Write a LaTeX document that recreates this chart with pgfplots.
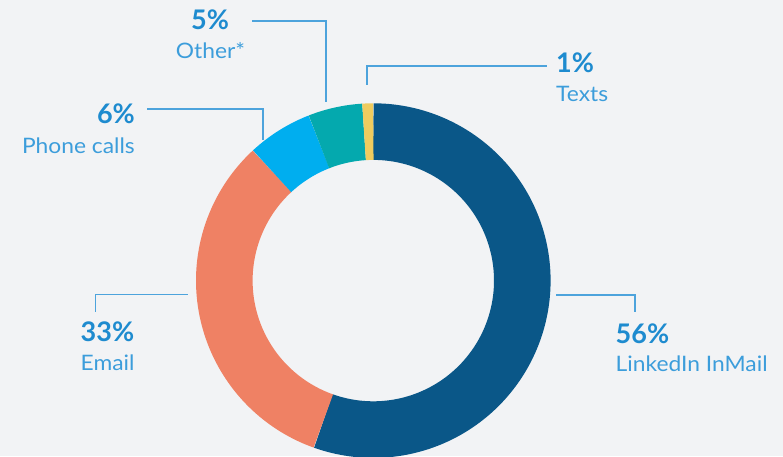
\documentclass[border=0pt]{standalone}
\usepackage{pgfplots}
\pgfplotsset{compat=1.18}
\usepackage{graphicx}
\usepackage{fontspec}
\setmainfont{Lato}
\definecolor{bgc}{HTML}{F2F3F5}
\definecolor{cLinked}{HTML}{0A5788}
\definecolor{cEmail}{HTML}{EF8164}
\definecolor{cPhone}{HTML}{00AEEF}
\definecolor{cOther}{HTML}{04A9AE}
\definecolor{cTexts}{HTML}{EFCC5F}
\definecolor{cPct}{HTML}{1E8BCF}
\definecolor{cLab}{HTML}{3C9DDB}
\definecolor{cLine}{HTML}{4DA3DC}
\newcommand{\pct}[1]{{\fontsize{27}{30}\selectfont\bfseries #1}}
\newcommand{\lab}[1]{\scalebox{1.07}[1]{\fontsize{21.3}{25}\selectfont #1}}
\begin{document}
\begin{tikzpicture}
\begin{axis}[
  x=1pt, y=1pt,
  xmin=0, xmax=783, ymin=0, ymax=456,
  hide axis, scale only axis,
  clip=true,
]
\fill[bgc] (rel axis cs:0,0) rectangle (rel axis cs:1,1);
% donut: centre (373.3,175.4), mid radius 149, ring width 56.6
% shares (percent): LinkedIn 56, Email 33, Phone 6, Other 5, Texts 1 (total 101)
\addplot[cLinked, line width=56.6pt, domain={90-360*56/101}:{90}, samples=160, variable=\t] ({373.3+149*cos(\t)},{175.4+149*sin(\t)});
\addplot[cEmail, line width=56.6pt, domain={90-360*89/101}:{90-360*56/101}, samples=110, variable=\t] ({373.3+149*cos(\t)},{175.4+149*sin(\t)});
\addplot[cPhone, line width=56.6pt, domain={90-360*95/101}:{90-360*89/101}, samples=30, variable=\t] ({373.3+149*cos(\t)},{175.4+149*sin(\t)});
\addplot[cOther, line width=56.6pt, domain={90-360*100/101}:{90-360*95/101}, samples=30, variable=\t] ({373.3+149*cos(\t)},{175.4+149*sin(\t)});
\addplot[cTexts, line width=56.6pt, domain={90-360}:{90-360*100/101}, samples=10, variable=\t] ({373.3+149*cos(\t)},{175.4+149*sin(\t)});
% leader lines
\addplot[cLine, line width=1.4pt, mark=none] coordinates {(252,435) (326,435) (326,354)};
\addplot[cLine, line width=1.4pt, mark=none] coordinates {(367,371) (367,390) (547,390)};
\addplot[cLine, line width=1.4pt, mark=none] coordinates {(147,347) (263,347) (263,316)};
\addplot[cLine, line width=1.4pt, mark=none] coordinates {(95.7,144.3) (95.7,161.7) (187.7,161.7)};
\addplot[cLine, line width=1.4pt, mark=none] coordinates {(556,161) (635,161) (635,144.3)};
% labels
\node[anchor=base, inner sep=0pt, text=cPct] at (axis cs:210,426) {\pct{5\%}};
\node[anchor=base, inner sep=0pt, text=cLab] at (axis cs:210.5,397) {\lab{Other*}};
\node[anchor=base west, inner sep=0pt, text=cPct] at (axis cs:556,383.7) {\pct{1\%}};
\node[anchor=base west, inner sep=0pt, text=cLab] at (axis cs:556,354.3) {\lab{Texts}};
\node[anchor=base east, inner sep=0pt, text=cPct] at (axis cs:135,332.7) {\pct{6\%}};
\node[anchor=base east, inner sep=0pt, text=cLab] at (axis cs:135,302.7) {\lab{Phone calls}};
\node[anchor=base west, inner sep=0pt, text=cPct] at (axis cs:80.5,114.3) {\pct{33\%}};
\node[anchor=base west, inner sep=0pt, text=cLab] at (axis cs:80.5,86) {\lab{Email}};
\node[anchor=base west, inner sep=0pt, text=cPct] at (axis cs:615.5,112.7) {\pct{56\%}};
\node[anchor=base west, inner sep=0pt, text=cLab] at (axis cs:615.5,84.3) {\lab{LinkedIn InMail}};
\end{axis}
\end{tikzpicture}
\end{document}
